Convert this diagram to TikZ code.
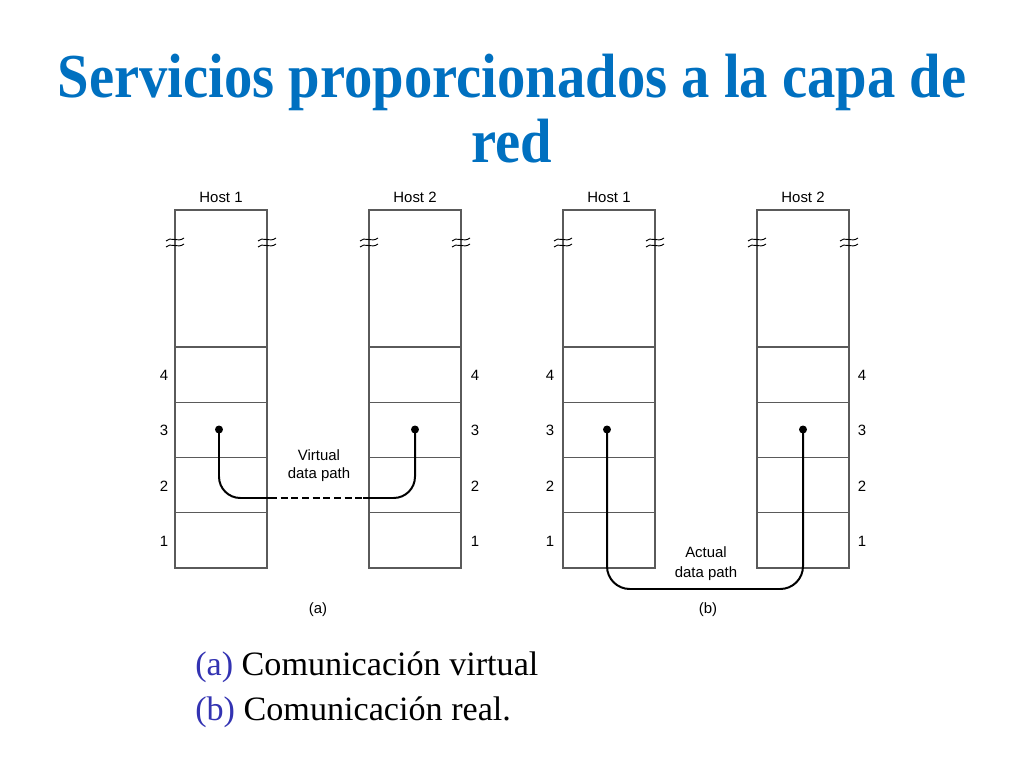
\documentclass[tikz,border=0pt]{standalone}
\usepackage{fontspec}
\setmainfont{Liberation Serif}
\setsansfont{Liberation Sans}
\newfontfamily\titlefont{Liberation Serif}[FakeStretch=0.905]
\definecolor{titleblue}{RGB}{0,112,192}
\definecolor{subblue}{RGB}{51,51,178}
\definecolor{boxgray}{RGB}{90,90,90}
\tikzset{
  px/.style={x=0.703125pt,y=-0.703125pt},
  cell/.style={draw=boxgray, line width=0.75pt, inner sep=0pt, outer sep=0pt,
    minimum width=64.69pt, minimum height=38.85pt},
  topcell/.style={cell, minimum height=96.33pt},
  lbl/.style={font=\sffamily\fontsize{10.5}{12}\selectfont, inner sep=0pt},
  dotn/.style={circle, fill=black, inner sep=0pt, minimum size=5.6pt},
  dpath/.style={line width=1.4pt, black},
  brkline/.style={line width=0.65pt, black},
  pics/brk/.style={code={
    \draw[brkline] (-9,-1) .. controls (-5,-6) and (3,1) .. (9,-4);
    \draw[brkline] (-9,5) .. controls (-5,0) and (3,7) .. (9,2);
  }},
  pics/hoststack/.style={code={
    \node[topcell, anchor=north] (-top) at (0,0) {};
    \node[cell, anchor=north] (-l4) at (0,137) {};
    \node[cell, anchor=north] (-l3) at (0,192.25) {};
    \node[cell, anchor=north] (-l2) at (0,247.5) {};
    \node[cell, anchor=north] (-l1) at (0,302.75) {};
    \pic at (-46,32) {brk};
    \pic at (46,32) {brk};
  }},
}
\begin{document}
\begin{tikzpicture}[px]
\useasboundingbox (0,0) rectangle (1024,768);
% Title
\node[anchor=base, inner sep=0pt, text=titleblue, font=\titlefont\bfseries\fontsize{44}{50}\selectfont] (t1) at (512,98) {Servicios proporcionados a la capa de};
\node[anchor=base, inner sep=0pt, text=titleblue, font=\titlefont\bfseries\fontsize{44}{50}\selectfont] (t2) at (512,163) {red};
% Host stacks
\pic (a1) at (221,210) {hoststack};
\pic (a2) at (415,210) {hoststack};
\pic (b1) at (609,210) {hoststack};
\pic (b2) at (803,210) {hoststack};
% Host labels
\node[lbl, anchor=base] (ha1) at (221,203) {Host 1};
\node[lbl, anchor=base] (ha2) at (415,203) {Host 2};
\node[lbl, anchor=base] (hb1) at (609,203) {Host 1};
\node[lbl, anchor=base] (hb2) at (803,203) {Host 2};
% Layer numbers
\foreach \n/\y in {4/375.5,3/430.75,2/486,1/541.25}{
  \node[lbl] (na1\n) at (164,\y) {\n};
  \node[lbl] (na2\n) at (475,\y) {\n};
  \node[lbl] (nb1\n) at (550,\y) {\n};
  \node[lbl] (nb2\n) at (862,\y) {\n};
}
% Panel (a): virtual path
\node[dotn] (a1d) at (219,429.5) {};
\node[dotn] (a2d) at (415,429.5) {};
\coordinate (aj1) at (270,498);
\coordinate (aj2) at (363,498);
\draw[dpath, rounded corners=15pt] (a1d.center) |- (aj1);
\draw[dpath, line width=1.1pt, dash pattern=on 5pt off 2.5pt] (aj1) -- (aj2);
\draw[dpath, rounded corners=15pt] (aj2) -| (a2d.center);
\node[lbl, anchor=base] (vt1) at (319,460) {Virtual};
\node[lbl, anchor=base] (vt2) at (319,478) {data path};
\node[lbl, anchor=base] (capa) at (318,613) {(a)};
% Panel (b): actual path
\node[dotn] (b1d) at (607,429.5) {};
\node[dotn] (b2d) at (803,429.5) {};
\coordinate (bbot) at (705,589);
\draw[dpath, rounded corners=16pt] (b1d.center) |- (bbot) -| (b2d.center);
\node[lbl, anchor=base] (at1) at (706,557) {Actual};
\node[lbl, anchor=base] (at2) at (706,577) {data path};
\node[lbl, anchor=base] (capb) at (708,613) {(b)};
% Caption
\node[anchor=base west, inner sep=0pt, font=\fontsize{24}{28}\selectfont] (c1) at (195,675) {\textcolor{subblue}{(a)} Comunicación virtual};
\node[anchor=base west, inner sep=0pt, font=\fontsize{24}{28}\selectfont] (c2) at (195,720) {\textcolor{subblue}{(b)} Comunicación real.};
\end{tikzpicture}
\end{document}
